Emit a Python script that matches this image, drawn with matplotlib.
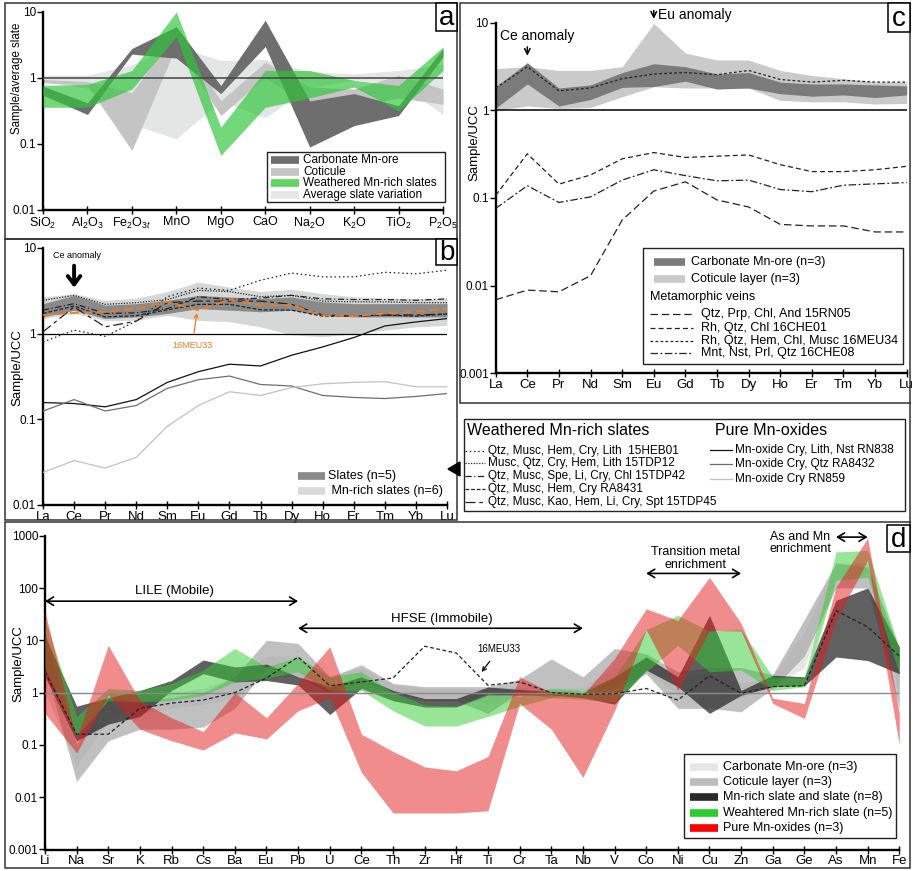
import matplotlib
matplotlib.use('Agg')
import matplotlib.pyplot as plt
import numpy as np
from matplotlib.patches import Rectangle
from matplotlib.ticker import NullLocator

plt.rcParams['font.family'] = ['Liberation Sans', 'DejaVu Sans']
plt.rcParams['mathtext.fontset'] = 'custom'
plt.rcParams['mathtext.rm'] = 'Liberation Sans'
plt.rcParams['mathtext.it'] = 'Liberation Sans:italic'

# ---------------- DATA ----------------
# Panel a : major oxides normalised to average slate
a_cats = [r'SiO$_2$', r'Al$_2$O$_3$', r'Fe$_2$O$_{3t}$', 'MnO', 'MgO', 'CaO',
          r'Na$_2$O', r'K$_2$O', r'TiO$_2$', r'P$_2$O$_5$']
a_avg_lo = [0.88, 0.70, 0.20, 0.12, 0.45, 0.25, 0.73, 0.92, 0.83, 0.28]
a_avg_hi = [1.10, 1.10, 1.60, 3.00, 1.85, 1.90, 1.25, 1.15, 1.30, 1.60]
a_cot_lo = [0.85, 0.77, 0.08, 3.10, 0.27, 1.03, 0.36, 0.36, 0.50, 0.40]
a_cot_hi = [0.95, 0.88, 0.60, 5.00, 0.45, 1.75, 0.73, 0.68, 1.10, 0.68]
a_carb_lo = [0.55, 0.28, 2.30, 2.00, 0.58, 3.00, 0.09, 0.19, 0.27, 2.10]
a_carb_hi = [0.75, 0.42, 2.80, 6.00, 0.77, 7.50, 0.45, 0.58, 0.38, 2.80]
a_wth_lo = [0.36, 0.36, 0.68, 4.20, 0.067, 0.36, 0.50, 0.73, 0.32, 1.30]
a_wth_hi = [0.77, 0.80, 1.30, 10.0, 0.18, 1.30, 1.30, 0.92, 0.77, 2.95]

# Panels b and c : REE normalised to UCC
ree = ['La', 'Ce', 'Pr', 'Nd', 'Sm', 'Eu', 'Gd', 'Tb', 'Dy', 'Ho', 'Er', 'Tm', 'Yb', 'Lu']
b_slate_lo = [1.57, 1.88, 1.50, 1.57, 1.72, 1.96, 1.88, 1.80, 1.88, 1.64, 1.57, 1.57, 1.57, 1.57]
b_slate_hi = [2.24, 2.80, 2.15, 2.24, 2.45, 2.80, 2.68, 2.57, 2.68, 2.35, 2.24, 2.24, 2.24, 2.24]
b_mnsl_lo = [1.50, 1.72, 1.43, 1.43, 1.64, 1.43, 1.38, 1.20, 0.97, 0.92, 1.00, 1.10, 1.20, 1.25]
b_mnsl_hi = [2.68, 2.93, 2.45, 2.60, 3.10, 4.00, 3.50, 3.10, 3.30, 2.93, 2.70, 2.60, 2.57, 2.57]
b_15HEB01 = [0.80, 1.10, 0.93, 1.40, 2.70, 3.40, 3.20, 4.20, 5.10, 4.60, 4.60, 5.20, 5.00, 5.50]
b_15TDP12 = [2.45, 2.80, 2.20, 2.30, 2.50, 3.20, 3.10, 2.70, 2.80, 2.40, 2.35, 2.35, 2.30, 2.30]
b_15TDP42 = [1.88, 2.24, 1.72, 1.75, 1.96, 2.70, 2.50, 2.60, 2.80, 2.55, 2.50, 2.50, 2.45, 2.55]
b_RA8431 = [1.72, 2.10, 1.57, 1.62, 1.90, 2.20, 2.20, 1.90, 1.88, 1.60, 1.60, 1.65, 1.60, 1.70]
b_15TDP45 = [1.05, 2.05, 1.20, 1.40, 2.30, 2.40, 2.40, 2.40, 2.20, 1.65, 1.60, 1.65, 1.65, 1.70]
b_16MEU33 = [1.64, 1.75, 1.80, 1.96, 2.35, 1.88, 2.50, 2.15, 2.15, 1.64, 1.60, 1.72, 1.80, 1.96]
b_RN838 = [0.157, 0.153, 0.140, 0.170, 0.27, 0.36, 0.44, 0.42, 0.56, 0.70, 0.90, 1.23, 1.37, 1.50]
b_RA8432 = [0.125, 0.170, 0.125, 0.145, 0.23, 0.29, 0.32, 0.255, 0.245, 0.19, 0.18, 0.175, 0.185, 0.20]
b_RN859 = [0.024, 0.033, 0.027, 0.036, 0.083, 0.145, 0.21, 0.19, 0.235, 0.26, 0.27, 0.275, 0.24, 0.24]

c_cot_lo = [1.00, 1.12, 1.05, 1.08, 1.43, 1.86, 1.80, 1.80, 1.80, 1.30, 1.25, 1.25, 1.18, 1.20]
c_cot_hi = [3.00, 3.15, 2.85, 2.85, 3.15, 9.80, 4.50, 3.75, 3.75, 2.85, 2.50, 2.30, 2.10, 2.10]
c_carb_lo = [1.06, 2.00, 1.12, 1.33, 1.83, 1.87, 2.15, 1.75, 1.80, 1.55, 1.45, 1.50, 1.40, 1.50]
c_carb_hi = [1.86, 3.50, 1.80, 1.95, 2.70, 3.40, 3.15, 2.60, 2.70, 2.10, 2.00, 2.00, 1.95, 1.90]
c_15RN05 = [0.0069, 0.0089, 0.0085, 0.013, 0.056, 0.12, 0.153, 0.095, 0.079, 0.050, 0.048, 0.048, 0.041, 0.041]
c_16CHE01 = [0.107, 0.32, 0.144, 0.183, 0.28, 0.33, 0.29, 0.30, 0.31, 0.24, 0.20, 0.20, 0.21, 0.23]
c_16MEU34 = [1.80, 3.15, 1.67, 1.80, 2.30, 2.60, 2.70, 2.55, 2.85, 2.25, 2.10, 2.20, 2.10, 2.10]
c_16CHE08 = [0.076, 0.138, 0.089, 0.103, 0.16, 0.21, 0.18, 0.157, 0.16, 0.125, 0.118, 0.14, 0.145, 0.15]

# Panel d : trace elements normalised to UCC
d_el = ['Li', 'Na', 'Sr', 'K', 'Rb', 'Cs', 'Ba', 'Eu', 'Pb', 'U', 'Ce', 'Th', 'Zr', 'Hf',
        'Ti', 'Cr', 'Ta', 'Nb', 'V', 'Co', 'Ni', 'Cu', 'Zn', 'Ga', 'Ge', 'As', 'Mn', 'Fe']
d_carb_lo = [1.0, 0.04, 0.30, 0.40, 0.50, 0.60, 0.80, 2.0, 2.0, 1.0, 1.5, 1.0, 0.80, 0.80,
             0.60, 0.90, 0.90, 1.0, 1.5, 2.5, 0.90, 1.0, 0.80, 1.3, 3.0, 150, 200, 1.0]
d_carb_hi = [10, 0.15, 1.0, 0.90, 1.0, 1.2, 2.0, 5.0, 5.0, 2.0, 3.0, 1.4, 1.2, 1.2,
             1.2, 1.3, 1.2, 1.3, 3.0, 5.0, 2.0, 2.5, 1.5, 2.0, 15, 300, 300, 5.0]
d_cot_lo = [3.0, 0.02, 0.12, 0.20, 0.20, 0.22, 0.50, 3.0, 2.0, 1.0, 2.0, 1.0, 0.70, 0.70,
            0.40, 1.0, 0.80, 1.1, 1.2, 2.3, 0.50, 0.50, 0.43, 1.2, 5.0, 100, 100, 0.5]
d_cot_hi = [15, 0.10, 0.80, 0.70, 0.80, 1.0, 2.0, 10.0, 8.7, 2.0, 3.4, 1.5, 1.3, 1.3,
            1.3, 1.8, 4.4, 2.0, 7.0, 5.5, 2.5, 3.0, 3.0, 2.2, 25, 300, 250, 7.0]
d_slate_lo = [2.0, 0.12, 0.25, 0.35, 1.1, 2.3, 1.6, 1.7, 1.4, 0.38, 1.2, 0.70, 0.53, 0.53,
              0.90, 0.90, 0.90, 0.80, 0.60, 2.7, 1.3, 0.40, 0.89, 1.3, 1.35, 4.8, 4.1, 2.3]
d_slate_hi = [12, 0.55, 0.80, 1.1, 1.7, 4.2, 3.1, 3.5, 2.0, 1.3, 2.0, 1.1, 0.77, 0.77,
              1.28, 1.15, 1.05, 1.0, 2.0, 4.8, 2.0, 30, 1.1, 2.15, 2.0, 58, 100, 7.5]
d_wth_lo = [3.0, 0.15, 0.71, 0.66, 0.71, 0.89, 1.6, 1.9, 2.5, 1.1, 1.1, 0.45, 0.23, 0.23,
            0.35, 0.55, 0.80, 0.75, 0.66, 2.5, 8.0, 2.5, 2.7, 1.1, 1.3, 140, 160, 2.3]
d_wth_hi = [25, 0.35, 1.2, 1.1, 1.5, 2.7, 7.0, 3.1, 4.8, 2.0, 2.5, 1.0, 0.58, 0.55,
            0.95, 0.85, 1.2, 1.1, 2.0, 16, 30, 15, 16, 2.0, 1.9, 490, 520, 7.0]
d_ox_lo = [0.40, 0.07, 0.90, 0.20, 0.12, 0.08, 0.17, 0.13, 0.45, 0.80, 0.03, 0.005, 0.005, 0.005,
           0.0055, 0.62, 0.20, 0.024, 0.45, 16, 1.1, 15.5, 15, 0.62, 0.32, 24, 340, 0.10]
d_ox_hi = [35, 0.13, 8.0, 0.70, 0.33, 0.18, 1.0, 0.33, 1.5, 7.5, 0.16, 0.075, 0.038, 0.032,
           0.06, 2.0, 1.0, 0.90, 4.5, 40, 24, 160, 21, 0.78, 0.62, 104, 900, 0.40]
d_16MEU33 = [2.5, 0.16, 0.16, 0.50, 0.63, 0.72, 1.0, 1.9, 4.8, 1.35, 1.6, 1.9, 7.7, 5.7,
             1.38, 1.6, 1.0, 0.93, 0.95, 1.2, 0.72, 2.1, 0.97, 1.3, 1.35, 37, 18, 5.0]

# ---------------- FIGURE ----------------
W, H = 913, 871
fig = plt.figure(figsize=(W / 100, H / 100), dpi=100)


def px_axes(x0, y0, x1, y1):
    return fig.add_axes([x0 / W, 1 - y1 / H, (x1 - x0) / W, (y1 - y0) / H])


def style(ax, cats, ylim, yticks, ylabels, xfs=9, yfs=8.5):
    ax.set_yscale('log')
    ax.set_ylim(*ylim)
    ax.set_xlim(0, len(cats) - 1)
    ax.set_xticks(range(len(cats)))
    ax.set_xticklabels(cats, fontsize=xfs)
    ax.set_yticks(yticks)
    ax.set_yticklabels(ylabels, fontsize=yfs)
    ax.yaxis.set_minor_locator(NullLocator())
    for s in ['top', 'right']:
        ax.spines[s].set_visible(False)
    for s in ['left', 'bottom']:
        ax.spines[s].set_linewidth(1.7)
    ax.tick_params(axis='y', direction='out', length=4, width=1, pad=1)
    ax.tick_params(axis='x', direction='inout', length=6, width=1, pad=1)
    ax.patch.set_alpha(0)


def band(ax, lo, hi, color, alpha=1.0, z=1):
    x = np.arange(len(lo))
    ax.fill_between(x, lo, hi, color=color, alpha=alpha, lw=0, zorder=z)


# ---- panel a ----
axa = px_axes(43, 12, 443, 210)
style(axa, a_cats, (0.01, 10), [0.01, 0.1, 1, 10], ['0.01', '0.1', '1', '10'])
band(axa, a_avg_lo, a_avg_hi, '#e4e6e6', 1, 1)
band(axa, a_cot_lo, a_cot_hi, '#c4c4c4', 1, 2)
band(axa, a_carb_lo, a_carb_hi, '#6e6e6e', 1, 3)
band(axa, a_wth_lo, a_wth_hi, '#2fc63a', 0.68, 4)
axa.axhline(1, color='#444444', lw=1.1, zorder=5)
axa.set_ylabel('Sample/average slate', fontsize=8.3)
axa.yaxis.set_label_coords(-20 / 400, 0.667)

# ---- panel b ----
axb = px_axes(43, 248, 447, 505)
style(axb, ree, (0.01, 10), [0.01, 0.1, 1, 10], ['0.01', '0.1', '1', '10'], xfs=9.5)
band(axb, b_mnsl_lo, b_mnsl_hi, '#d6d8d8', 1, 1)
band(axb, b_slate_lo, b_slate_hi, '#8a8a8a', 1, 2)
axb.axhline(1, color='black', lw=0.9, zorder=3)
xr = np.arange(len(ree))
kw = dict(color='#222222', lw=0.9, zorder=5)
axb.plot(xr, b_15HEB01, dashes=(1.2, 2.2), **kw)
axb.plot(xr, b_15TDP12, dashes=(1, 1.2), **kw)
axb.plot(xr, b_15TDP42, dashes=(5, 2, 1, 2), **kw)
axb.plot(xr, b_RA8431, dashes=(3, 1.5), **kw)
axb.plot(xr, b_15TDP45, dashes=(8, 3, 3, 3), **kw)
axb.plot(xr, b_16MEU33, color='#ef7d22', lw=1.3, dashes=(5, 2.5), zorder=6)
axb.plot(xr, b_RN838, color='#111111', lw=0.9, zorder=5)
axb.plot(xr, b_RA8432, color='#6e6e6e', lw=0.9, zorder=5)
axb.plot(xr, b_RN859, color='#c2c2c2', lw=0.9, zorder=5)
axb.set_ylabel('Sample/UCC', fontsize=9.5)
axb.yaxis.set_label_coords(-20 / 404, 0.533)
axb.text(1.1, 8.1, 'Ce anomaly', fontsize=6.5, ha='center', va='center')
axb.annotate('', xy=(1, 3.2), xytext=(1, 6.7),
             arrowprops=dict(arrowstyle='->,head_length=0.6,head_width=0.45', lw=2.8, color='black'))
axb.annotate('16MEU33', xy=(4.95, 1.74), xytext=(4.8, 0.72), fontsize=6.5, color='#ef7d22',
             ha='center', va='center',
             arrowprops=dict(arrowstyle='->', lw=0.9, color='#ef7d22', shrinkA=4, shrinkB=0))

# ---- panel c ----
axc = px_axes(495.7, 22.7, 906.7, 373.3)
style(axc, ree, (0.001, 10), [0.001, 0.01, 0.1, 1, 10], ['0.001', '0.01', '0.1', '1', '10'], xfs=9.5)
band(axc, c_cot_lo, c_cot_hi, '#cacaca', 1, 1)
band(axc, c_carb_lo, c_carb_hi, '#7b7b7b', 1, 2)
axc.axhline(1, color='black', lw=1.1, zorder=3)
kw = dict(color='#222222', lw=0.9, zorder=5)
axc.plot(xr, c_15RN05, dashes=(6, 3), **kw)
axc.plot(xr, c_16CHE01, dashes=(4, 2.5), **kw)
axc.plot(xr, c_16MEU34, dashes=(2.2, 1.8), **kw)
axc.plot(xr, c_16CHE08, dashes=(6, 2, 1.5, 2), **kw)
axc.set_ylabel('Sample/UCC', fontsize=9.5)
axc.yaxis.set_label_coords(-15 / 411, 0.657)
axc.text(0.14, 7.05, 'Ce anomaly', fontsize=10, ha='left', va='center')
axc.annotate('', xy=(1, 3.9), xytext=(1, 5.7),
             arrowprops=dict(arrowstyle='->', lw=1.1, color='black'))
axc.annotate('', xy=(5, 10.3), xytext=(5, 14.8), annotation_clip=False,
             arrowprops=dict(arrowstyle='->', lw=1.1, color='black'))
axc.text(5.12, 12.4, 'Eu anomaly', fontsize=10, ha='left', va='center', clip_on=False)

# ---- panel d ----
axd = px_axes(45, 535.7, 899.3, 849.5)
style(axd, d_el, (0.001, 1000), [0.001, 0.01, 0.1, 1, 10, 100, 1000],
      ['0.001', '0.01', '0.1', '1', '10', '100', '1000'], xfs=9.5)
band(axd, d_carb_lo, d_carb_hi, '#e2e2e2', 0.85, 1)
band(axd, d_cot_lo, d_cot_hi, '#a6a6a6', 0.7, 2)
band(axd, d_slate_lo, d_slate_hi, '#333333', 0.78, 3)
band(axd, d_wth_lo, d_wth_hi, '#33cc33', 0.5, 4)
band(axd, d_ox_lo, d_ox_hi, '#e41a1c', 0.5, 5)
axd.axhline(1, color='#8a8a8a', lw=1.0, zorder=6)
xd = np.arange(len(d_el))
axd.plot(xd, d_16MEU33, color='#222222', lw=0.9, dashes=(3, 2), zorder=7)
axd.set_ylabel('Sample/UCC', fontsize=9.5)
axd.yaxis.set_label_coords(-21 / 854, 0.594)
aprops = dict(arrowstyle='<->,head_length=0.5,head_width=0.3', lw=1.2, color='black',
              shrinkA=0, shrinkB=0)
axd.annotate('', xy=(0, 56), xytext=(8, 56), arrowprops=aprops)
axd.text(4.1, 87, 'LILE (Mobile)', fontsize=9.5, ha='center', va='center')
axd.annotate('', xy=(8, 17), xytext=(17, 17), arrowprops=aprops)
axd.text(12.55, 25.5, 'HFSE (Immobile)', fontsize=9.5, ha='center', va='center')
axd.annotate('', xy=(19, 190), xytext=(22, 190), arrowprops=aprops)
axd.text(20.55, 370, 'Transition metal\nenrichment', fontsize=9, ha='center', va='center',
         linespacing=1.05)
axd.annotate('', xy=(25, 940), xytext=(26, 940), arrowprops=aprops, annotation_clip=False)
axd.text(22.9, 720, 'As and Mn\nenrichment', fontsize=9, ha='left', va='center',
         linespacing=1.05)
axd.annotate('16MEU33', xy=(13.8, 2.48), xytext=(14.35, 6.8), fontsize=7, ha='center',
             va='center', arrowprops=dict(arrowstyle='->', lw=0.9, color='black',
                                          shrinkA=4, shrinkB=0))

# ---------------- overlay : frames, legends, panel letters ----------------
ov = fig.add_axes([0, 0, 1, 1], zorder=10)
ov.set_xlim(0, W)
ov.set_ylim(H, 0)
ov.axis('off')

fc = '#333333'
for (x0, y0, x1, y1) in [(5, 3, 457, 239), (5, 239, 457, 520), (460, 3, 910, 403),
                         (5, 522, 910, 868)]:
    ov.add_patch(Rectangle((x0, y0), x1 - x0, y1 - y0, fill=False, ec=fc, lw=1.1))
ov.plot([910, 910], [403, 522], color=fc, lw=1.1)


def letter(x0, y0, x1, y1, t):
    ov.add_patch(Rectangle((x0, y0), x1 - x0, y1 - y0, fc='white', ec='black', lw=1.1, zorder=11))
    ov.text((x0 + x1) / 2, (y0 + y1) / 2 + 1, t, fontsize=20, ha='center', va='center', zorder=12)


letter(436, 3, 457, 31, 'a')
letter(436, 239, 457, 265, 'b')
letter(888, 3, 910, 32, 'c')
letter(887, 525, 910, 552, 'd')


def patch_entry(x, y, color, label, fs, w=28, lw=5.5, tx=4):
    ov.plot([x, x + w], [y, y], color=color, lw=lw, solid_capstyle='butt', zorder=12)
    ov.text(x + w + tx, y, label, fontsize=fs, ha='left', va='center', zorder=12)


def line_entry(x, y, label, fs, w, dashes=None, color='#222222', tx=3):
    if dashes is None:
        ov.plot([x, x + w], [y, y], color=color, lw=0.9, zorder=12)
    else:
        ov.plot([x, x + w], [y, y], color=color, lw=0.9, dashes=dashes, zorder=12)
    ov.text(x + w + tx, y, label, fontsize=fs, ha='left', va='center', zorder=12)


# legend a
ov.add_patch(Rectangle((267, 152), 178, 50, fc='white', ec='#222222', lw=1.0, zorder=11))
patch_entry(271, 160, '#6e6e6e', 'Carbonate Mn-ore', 8.5)
patch_entry(271, 172, '#c4c4c4', 'Coticule', 8.5)
patch_entry(271, 183.5, '#5fd45f', 'Weathered Mn-rich slates', 8.5)
patch_entry(271, 195, '#e6e6e6', 'Average slate variation', 8.5)

# legend b (unframed)
patch_entry(298, 476, '#8a8a8a', 'Slates (n=5)', 9, w=27, tx=3)
patch_entry(298, 491, '#d9d9d9', ' Mn-rich slates (n=6)', 9, w=27, tx=3)

# legend c
ov.add_patch(Rectangle((643, 248), 260, 116, fc='white', ec='#222222', lw=1.0, zorder=11))
patch_entry(654, 262, '#7b7b7b', 'Carbonate Mn-ore (n=3)', 9, w=31, tx=6)
patch_entry(654, 279, '#cacaca', 'Coticule layer (n=3)', 9, w=31, tx=6)
ov.text(650, 297, 'Metamorphic veins', fontsize=9, ha='left', va='center', zorder=12)
line_entry(650, 314, 'Qtz, Prp, Chl, And 15RN05', 9, 43, (6, 3), tx=8)
line_entry(650, 328, 'Rh, Qtz, Chl 16CHE01', 9, 43, (4, 2.5), tx=8)
line_entry(650, 341, 'Rh, Qtz, Hem, Chl, Musc 16MEU34', 9, 43, (2.2, 1.8), tx=8)
line_entry(650, 353, 'Mnt, Nst, Prl, Qtz 16CHE08', 9, 43, (6, 2, 1.5, 2), tx=8)

# legend middle (lines of panel b)
ov.add_patch(Rectangle((464, 419), 441, 92, fc='white', ec='#222222', lw=1.0, zorder=11))
ov.text(467, 430, 'Weathered Mn-rich slates', fontsize=11.5, ha='left', va='center', zorder=12)
ov.text(715, 430, 'Pure Mn-oxides', fontsize=11.5, ha='left', va='center', zorder=12)
line_entry(465, 451, 'Qtz, Musc, Hem, Cry, Lith  15HEB01', 8.5, 20, (1.2, 2.2))
line_entry(465, 463, 'Musc, Qtz, Cry, Hem, Lith 15TDP12', 8.5, 20, (1, 1.2))
line_entry(465, 476, 'Qtz, Musc, Spe, Li, Cry, Chl 15TDP42', 8.5, 20, (5, 2, 1, 2))
line_entry(465, 489, 'Qtz, Musc, Hem, Cry RA8431', 8.5, 20, (3, 1.5))
line_entry(465, 502, 'Qtz, Musc, Kao, Hem, Li, Cry, Spt 15TDP45', 8.5, 20, (8, 3, 3, 3))
line_entry(710, 450, 'Mn-oxide Cry, Lith, Nst RN838', 8.5, 22, None, '#111111')
line_entry(710, 464, 'Mn-oxide Cry, Qtz RA8432', 8.5, 22, None, '#6e6e6e')
line_entry(710, 479, 'Mn-oxide Cry RN859', 8.5, 22, None, '#c2c2c2')
ov.fill([448, 460, 460], [469, 462, 476], color='black', zorder=12)

# legend d
ov.add_patch(Rectangle((684, 754), 212, 84, fc='white', ec='#222222', lw=1.0, zorder=11))
patch_entry(690, 767, '#e6e6e6', 'Carbonate Mn-ore (n=3)', 9, w=28, tx=5)
patch_entry(690, 782, '#bdbdbd', 'Coticule layer (n=3)', 9, w=28, tx=5)
patch_entry(690, 797, '#2a2a2a', 'Mn-rich slate and slate (n=8)', 9, w=28, tx=5)
patch_entry(690, 813, '#2ecc2e', 'Weahtered Mn-rich slate (n=5)', 9, w=28, tx=5)
patch_entry(690, 828, '#ff0000', 'Pure Mn-oxides (n=3)', 9, w=28, tx=5)

fig.savefig('out.png', dpi=100)
